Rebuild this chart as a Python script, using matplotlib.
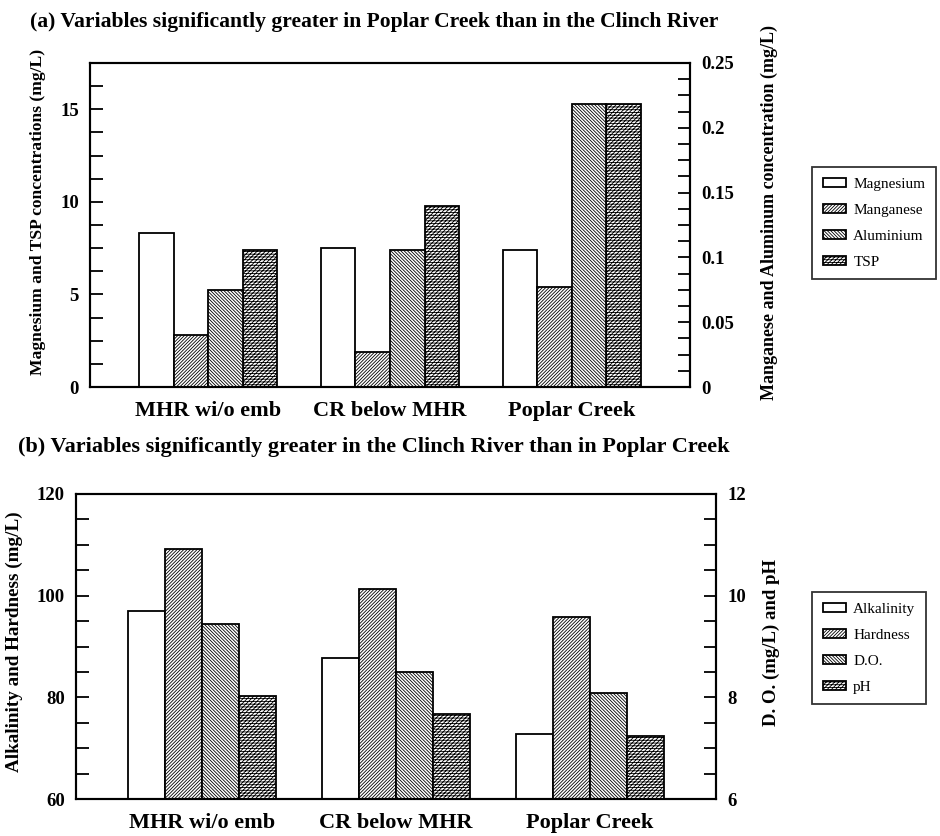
# Recreate the two-panel Poplar Creek / Clinch River bar chart
import matplotlib
matplotlib.use('Agg')
import matplotlib.pyplot as plt
import numpy as np

plt.rcParams['font.family'] = ['Liberation Serif', 'DejaVu Serif']
plt.rcParams['hatch.linewidth'] = 0.6

# categories (shared by both panels)
sites = ['MHR wi/o emb', 'CR below MHR', 'Poplar Creek']

# panel (a): left axis in mg/L, right axis in mg/L
magnesium = [8.32, 7.49, 7.40]
manganese = [0.040, 0.027, 0.077]
aluminium = [0.075, 0.106, 0.218]
tsp = [7.41, 9.78, 15.30]

# panel (b): left axis in mg/L, right axis D.O. mg/L and pH
alkalinity = [97.0, 87.8, 72.8]
hardness = [109.2, 101.3, 95.8]
do_mgl = [9.45, 8.50, 8.09]
ph = [8.02, 7.67, 7.24]

hatches = ['', '/'*10, '\\'*10, '/'*8 + '-'*6]
bw = 0.19
x = np.arange(len(sites))
offs = [-1.5*bw, -0.5*bw, 0.5*bw, 1.5*bw]

fig = plt.figure(figsize=(9.4, 8.36), dpi=100)
W, H = 940.0, 836.0

def axes_px(l, r, t, b):
  return fig.add_axes([l/W, 1-b/H, (r-l)/W, (b-t)/H])

def style(ax):
  for s in ax.spines.values():
    s.set_linewidth(1.5)
  ax.tick_params(axis='y', which='both', direction='in', length=9, width=1.3,
                 labelsize=13.5, pad=8)
  ax.tick_params(axis='x', length=0, labelsize=16, pad=10)
  for t in ax.get_yticklabels() + ax.get_xticklabels():
    t.set_fontweight('bold')

def bar(ax, i, vals, label):
  return ax.bar(x+offs[i], vals, bw, color='white', edgecolor='black',
                linewidth=1.3, hatch=hatches[i], label=label)

def legend(handles, top):
  lg = fig.legend(handles=handles, loc='upper left',
                  bbox_to_anchor=(812/W, 1-top/H), borderaxespad=0,
                  fontsize=11, frameon=True, fancybox=False, handlelength=1.5,
                  handleheight=0.55, borderpad=0.7, labelspacing=0.85,
                  handletextpad=0.5)
  lg.get_frame().set_edgecolor('black')
  lg.get_frame().set_linewidth(1.3)
  return lg

# ---- panel (a)
ax1 = axes_px(90, 690, 63, 387)
ax1r = ax1.twinx()
h1 = [bar(ax1, 0, magnesium, 'Magnesium'),
      bar(ax1r, 1, manganese, 'Manganese'),
      bar(ax1r, 2, aluminium, 'Aluminium'),
      bar(ax1, 3, tsp, 'TSP')]
ax1.set_xlim(-0.65, 2.65)
ax1.set_ylim(0, 17.5)
ax1.set_yticks([0, 5, 10, 15])
ax1.set_yticks(np.arange(0, 17.6, 1.25), minor=True)
ax1r.set_ylim(0, 0.25)
ax1r.set_yticks([0, 0.05, 0.1, 0.15, 0.2, 0.25])
ax1r.set_yticklabels(['0', '0.05', '0.1', '0.15', '0.2', '0.25'])
ax1r.set_yticks(np.arange(0, 0.2501, 0.0125), minor=True)
ax1.set_xticks(x)
ax1.set_xticklabels(sites)
style(ax1)
style(ax1r)

fig.text(30/W, 1-22/H,
         '(a) Variables significantly greater in Poplar Creek than in the Clinch River',
         fontsize=15.6, fontweight='bold', ha='left', va='center')
fig.text(38/W, 1-212/H, 'Magnesium and TSP concentrations (mg/L)',
         rotation=90, fontsize=12.6, fontweight='bold', ha='center', va='center')
fig.text(769/W, 1-212/H, 'Manganese and Aluminum concentration (mg/L)',
         rotation=90, fontsize=13, fontweight='bold', ha='center', va='center')
legend(h1, 167)

# ---- panel (b)
ax2 = axes_px(76, 716, 494, 799)
ax2r = ax2.twinx()
h2 = [bar(ax2, 0, alkalinity, 'Alkalinity'),
      bar(ax2, 1, hardness, 'Hardness'),
      bar(ax2r, 2, do_mgl, 'D.O.'),
      bar(ax2r, 3, ph, 'pH')]
ax2.set_xlim(-0.65, 2.65)
ax2.set_ylim(60, 120)
ax2.set_yticks([60, 80, 100, 120])
ax2.set_yticks(np.arange(60, 121, 5), minor=True)
ax2r.set_ylim(6, 12)
ax2r.set_yticks([6, 8, 10, 12])
ax2r.set_yticks(np.arange(6, 12.01, 0.5), minor=True)
ax2.set_xticks(x)
ax2.set_xticklabels(sites)
style(ax2)
style(ax2r)

fig.text(18/W, 1-447/H,
         '(b) Variables significantly greater in the Clinch River than in Poplar Creek',
         fontsize=16, fontweight='bold', ha='left', va='center')
fig.text(14/W, 1-642/H, 'Alkalinity and Hardness (mg/L)',
         rotation=90, fontsize=13.8, fontweight='bold', ha='center', va='center')
fig.text(771/W, 1-642/H, 'D. O. (mg/L) and pH',
         rotation=90, fontsize=13.5, fontweight='bold', ha='center', va='center')
legend(h2, 592)

fig.savefig('out.png', dpi=100)
